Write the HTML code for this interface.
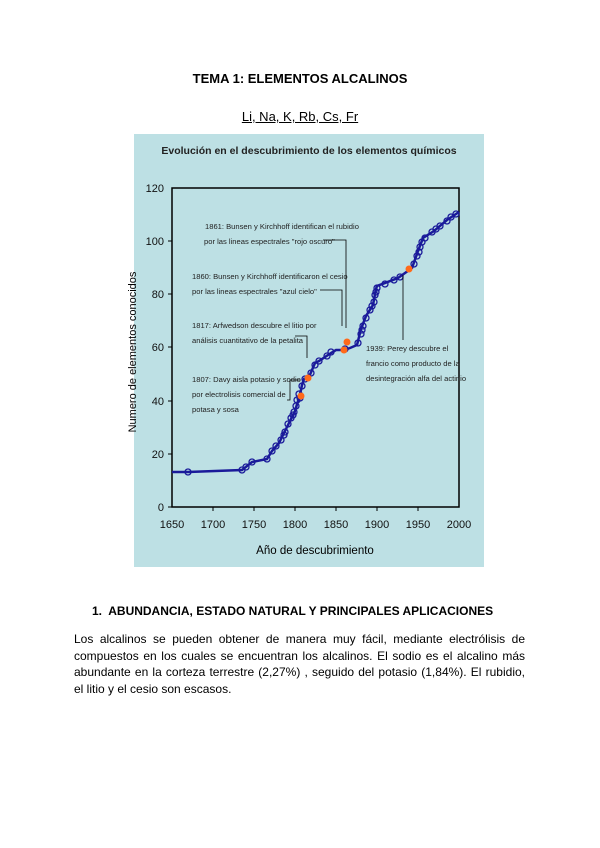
<!DOCTYPE html>
<html><head><meta charset="utf-8"><style>
body{margin:0;width:600px;height:848px;background:#fff;position:relative;font-family:"Liberation Sans",sans-serif;color:#000}
.a{position:absolute}
</style></head><body>
<div class="a" style="top:71px;left:0;width:600px;text-align:center;font-weight:bold;font-size:13px">TEMA 1: ELEMENTOS ALCALINOS</div>
<div class="a" style="top:109px;left:0;width:600px;text-align:center;font-size:13px;text-decoration:underline">Li, Na, K, Rb, Cs, Fr</div>
<svg class="a" style="left:0;top:0" width="600" height="600" font-family="Liberation Sans, sans-serif">
<rect x="134" y="134" width="350" height="433" fill="#bde0e4"/>
<text x="309" y="154" font-size="10.5" font-weight="bold" text-anchor="middle" fill="#222">Evolución en el descubrimiento de los elementos químicos</text>
<rect x="172" y="188" width="287" height="319" fill="none" stroke="#000" stroke-width="1.5"/>
<g font-size="11" text-anchor="end" fill="#111">
<text x="164" y="511">0</text><text x="164" y="458">20</text><text x="164" y="405">40</text><text x="164" y="351">60</text><text x="164" y="298">80</text><text x="164" y="245">100</text><text x="164" y="192">120</text></g>
<g stroke="#000"><line x1="168" y1="507" x2="172" y2="507"/><line x1="168" y1="454" x2="172" y2="454"/><line x1="168" y1="401" x2="172" y2="401"/><line x1="168" y1="347" x2="172" y2="347"/><line x1="168" y1="294" x2="172" y2="294"/><line x1="168" y1="241" x2="172" y2="241"/>
<line x1="213" y1="507" x2="213" y2="511"/><line x1="254" y1="507" x2="254" y2="511"/><line x1="295" y1="507" x2="295" y2="511"/><line x1="336" y1="507" x2="336" y2="511"/><line x1="377" y1="507" x2="377" y2="511"/><line x1="418" y1="507" x2="418" y2="511"/></g>
<g font-size="11" text-anchor="middle" fill="#111">
<text x="172" y="528">1650</text><text x="213" y="528">1700</text><text x="254" y="528">1750</text><text x="295" y="528">1800</text><text x="336" y="528">1850</text><text x="377" y="528">1900</text><text x="418" y="528">1950</text><text x="459" y="528">2000</text></g>
<text x="315" y="554" font-size="11.5" text-anchor="middle">Año de descubrimiento</text>
<text transform="translate(136,352) rotate(-90)" font-size="11" text-anchor="middle">Numero de elementos conocidos</text>
<polyline fill="none" stroke="#1a1a9a" stroke-width="2.5" points="172,472 188,472 242,470 252,462 267,459 272,451 279,443 287,427 295,411 298,401 301,390 302,385 304,379 309,377 315,363 319,361 331,353 336,350 344,350 350,348 357,345 361,329 366,316 373,305 376,289 377,286 398,278 412,268 418,251 423,238 434,231 447,220 459,212"/>
<g fill="none" stroke="#1a1a9a" stroke-width="1.3">
<circle cx="188" cy="472" r="3"/><circle cx="242" cy="470" r="3"/><circle cx="246" cy="467" r="3"/><circle cx="252" cy="462" r="3"/><circle cx="267" cy="459" r="3"/><circle cx="272" cy="451" r="3"/><circle cx="276" cy="446" r="3"/><circle cx="281" cy="440" r="3"/><circle cx="285" cy="432" r="3"/><circle cx="288" cy="424" r="3"/><circle cx="291" cy="418" r="3"/><circle cx="294" cy="412" r="3"/><circle cx="296" cy="406" r="3"/><circle cx="297" cy="400" r="3"/><circle cx="299" cy="394" r="3"/><circle cx="302" cy="386" r="3"/><circle cx="305" cy="379" r="3"/><circle cx="311" cy="373" r="3"/><circle cx="315" cy="365" r="3"/><circle cx="319" cy="361" r="3"/><circle cx="327" cy="356" r="3"/><circle cx="331" cy="352" r="3"/><circle cx="345" cy="349" r="3"/><circle cx="358" cy="343" r="3"/><circle cx="361" cy="334" r="3"/><circle cx="363" cy="326" r="3"/><circle cx="366" cy="318" r="3"/><circle cx="370" cy="310" r="3"/><circle cx="374" cy="302" r="3"/><circle cx="375" cy="295" r="3"/><circle cx="377" cy="288" r="3"/><circle cx="385" cy="284" r="3"/><circle cx="394" cy="280" r="3"/><circle cx="400" cy="277" r="3"/><circle cx="414" cy="264" r="3"/><circle cx="417" cy="256" r="3"/><circle cx="420" cy="247" r="3"/><circle cx="425" cy="238" r="3"/><circle cx="432" cy="232" r="3"/><circle cx="440" cy="226" r="3"/><circle cx="447" cy="221" r="3"/><circle cx="456" cy="214" r="3"/>
<circle cx="284" cy="435" r="3"/><circle cx="293" cy="415" r="3"/><circle cx="300" cy="398" r="3"/><circle cx="362" cy="330" r="3"/><circle cx="372" cy="306" r="3"/><circle cx="376" cy="292" r="3"/><circle cx="419" cy="252" r="3"/><circle cx="422" cy="242" r="3"/><circle cx="436" cy="229" r="3"/><circle cx="451" cy="217" r="3"/></g>
<g fill="#ff6a1a"><circle cx="301" cy="396" r="3.5"/><circle cx="308" cy="378" r="3.5"/><circle cx="344" cy="350" r="3.5"/><circle cx="347" cy="342" r="3.5"/><circle cx="409" cy="269" r="3.5"/></g>
<g font-size="7.6" fill="#222">
<text x="205" y="229">1861: Bunsen y Kirchhoff identifican el rubidio</text>
<text x="204" y="244">por las lineas espectrales "rojo oscuro"</text>
<text x="192" y="279">1860: Bunsen y Kirchhoff identificaron el cesio</text>
<text x="192" y="294">por las lineas espectrales "azul cielo"</text>
<text x="192" y="328">1817: Arfwedson descubre el litio por</text>
<text x="192" y="343">análisis cuantitativo de la petalita</text>
<text x="192" y="382">1807: Davy aisla potasio y sodio</text>
<text x="192" y="397">por electrolisis comercial de</text>
<text x="192" y="412">potasa y sosa</text>
<text x="366" y="351">1939: Perey descubre el</text>
<text x="366" y="366">francio como producto de la</text>
<text x="366" y="381">desintegración alfa del actinio</text></g>
<g fill="none" stroke="#000" stroke-width="0.8">
<polyline points="323,240 346,240 346,328"/><polyline points="320,290 342,290 342,326"/><polyline points="295,336 307,336 307,358"/><polyline points="287,400 290,400 290,380 300,380"/><line x1="403" y1="340" x2="403" y2="275"/></g>
</svg>
<div class="a" style="top:604px;left:92px;font-weight:bold;font-size:12px">1.&nbsp; ABUNDANCIA, ESTADO NATURAL Y PRINCIPALES APLICACIONES</div>
<div class="a" style="top:631px;left:74px;width:451px;font-size:12px;line-height:16.7px;text-align:justify">Los alcalinos se pueden obtener de manera muy fácil, mediante electrólisis de compuestos en los cuales se encuentran los alcalinos. El sodio es el alcalino más abundante en la corteza terrestre (2,27%) , seguido del potasio (1,84%). El rubidio, el litio y el cesio son escasos.</div>
</body></html>
